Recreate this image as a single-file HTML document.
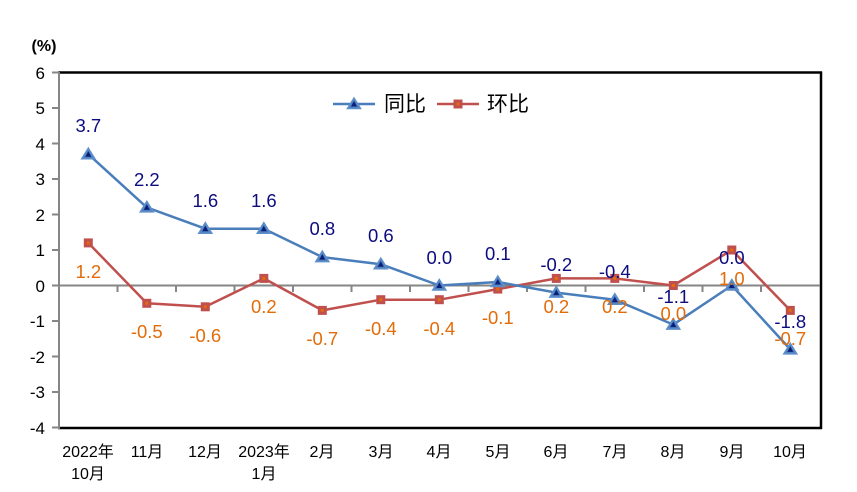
<!DOCTYPE html>
<html><head><meta charset="utf-8"><style>
html,body{margin:0;padding:0;background:#fff;}
svg{display:block;}
text{font-family:"Liberation Sans","Noto Sans CJK SC",sans-serif;}
</style></head><body>
<svg width="857" height="492" viewBox="0 0 857 492" xmlns="http://www.w3.org/2000/svg">
<defs>
<g id="tri"><polygon points="0,-6 6.5,4.5 -6.5,4.5" fill="#4F81BD" stroke="#5F8FCB" stroke-width="1.5"/><polygon points="0,-3 3,2.5 -3,2.5" fill="#0A1F7A"/></g>
<g id="sq"><rect x="-4.5" y="-4.5" width="9" height="9" fill="#C0504D"/><rect x="-1.5" y="-1.5" width="3" height="3" fill="#E36C09"/></g>
</defs>
<!-- frame -->
<line x1="58" y1="72.5" x2="822" y2="72.5" stroke="#000" stroke-width="2.5"/>
<line x1="58" y1="428" x2="822" y2="428" stroke="#000" stroke-width="2.5"/>
<line x1="821" y1="71.5" x2="821" y2="429" stroke="#000" stroke-width="2.5"/>
<line x1="59" y1="72" x2="59" y2="429" stroke="#868686" stroke-width="2"/>
<g stroke="#868686" stroke-width="2">
<line x1="52" y1="72.5" x2="59" y2="72.5"/>
<line x1="52" y1="108" x2="59" y2="108"/>
<line x1="52" y1="143.5" x2="59" y2="143.5"/>
<line x1="52" y1="179" x2="59" y2="179"/>
<line x1="52" y1="214.5" x2="59" y2="214.5"/>
<line x1="52" y1="250" x2="59" y2="250"/>
<line x1="52" y1="285.5" x2="59" y2="285.5"/>
<line x1="52" y1="321" x2="59" y2="321"/>
<line x1="52" y1="356.5" x2="59" y2="356.5"/>
<line x1="52" y1="392" x2="59" y2="392"/>
<line x1="52" y1="427.5" x2="59" y2="427.5"/>
<line x1="59" y1="285.5" x2="820" y2="285.5"/>
<line x1="117.5" y1="285" x2="117.5" y2="292"/>
<line x1="176" y1="285" x2="176" y2="292"/>
<line x1="234.5" y1="285" x2="234.5" y2="292"/>
<line x1="293" y1="285" x2="293" y2="292"/>
<line x1="351.5" y1="285" x2="351.5" y2="292"/>
<line x1="410" y1="285" x2="410" y2="292"/>
<line x1="468.5" y1="285" x2="468.5" y2="292"/>
<line x1="527" y1="285" x2="527" y2="292"/>
<line x1="585.5" y1="285" x2="585.5" y2="292"/>
<line x1="644" y1="285" x2="644" y2="292"/>
<line x1="702.5" y1="285" x2="702.5" y2="292"/>
<line x1="761" y1="285" x2="761" y2="292"/>
</g>
<!-- y labels -->
<g font-size="17" fill="#000" text-anchor="end">
<text x="45" y="79">6</text>
<text x="45" y="114">5</text>
<text x="45" y="150">4</text>
<text x="45" y="185">3</text>
<text x="45" y="221">2</text>
<text x="45" y="256">1</text>
<text x="45" y="292">0</text>
<text x="45" y="327">-1</text>
<text x="45" y="363">-2</text>
<text x="45" y="398">-3</text>
<text x="45" y="434">-4</text>
</g>
<text x="44" y="51" font-size="16" font-weight="bold" text-anchor="middle">(%)</text>
<!-- x labels -->
<g font-size="16" fill="#000" text-anchor="middle">
<text x="88" y="457">2022年</text><text x="88" y="479">10月</text>
<text x="147" y="457">11月</text>
<text x="205" y="457">12月</text>
<text x="264" y="457">2023年</text><text x="264" y="479">1月</text>
<text x="322" y="457">2月</text>
<text x="381" y="457">3月</text>
<text x="439" y="457">4月</text>
<text x="498" y="457">5月</text>
<text x="556" y="457">6月</text>
<text x="615" y="457">7月</text>
<text x="673" y="457">8月</text>
<text x="732" y="457">9月</text>
<text x="790" y="457">10月</text>
</g>
<!-- series 环比 -->
<polyline fill="none" stroke="#C0504D" stroke-width="2.5" stroke-linejoin="round" points="88.3,242.9 146.8,303.3 205.3,306.8 263.8,278.4 322.3,310.4 380.8,299.7 439.3,299.7 497.8,289.1 556.3,278.4 614.8,278.4 673.3,285.5 731.8,250 790.3,310.4"/>
<!-- series 同比 -->
<polyline fill="none" stroke="#4A7EBB" stroke-width="2.5" stroke-linejoin="round" points="88.3,154.2 146.8,207.4 205.3,228.7 263.8,228.7 322.3,257.1 380.8,264.2 439.3,285.5 497.8,282 556.3,292.6 614.8,299.7 673.3,324.6 731.8,285.5 790.3,349.4"/>
<g>
<use href="#sq" x="88.3" y="242.9"/><use href="#sq" x="146.8" y="303.3"/><use href="#sq" x="205.3" y="306.8"/><use href="#sq" x="263.8" y="278.4"/><use href="#sq" x="322.3" y="310.4"/><use href="#sq" x="380.8" y="299.7"/><use href="#sq" x="439.3" y="299.7"/><use href="#sq" x="497.8" y="289.1"/><use href="#sq" x="556.3" y="278.4"/><use href="#sq" x="614.8" y="278.4"/><use href="#sq" x="673.3" y="285.5"/><use href="#sq" x="731.8" y="250"/><use href="#sq" x="790.3" y="310.4"/>
</g>
<g>
<use href="#tri" x="88.3" y="154.2"/><use href="#tri" x="146.8" y="207.4"/><use href="#tri" x="205.3" y="228.7"/><use href="#tri" x="263.8" y="228.7"/><use href="#tri" x="322.3" y="257.1"/><use href="#tri" x="380.8" y="264.2"/><use href="#tri" x="439.3" y="285.5"/><use href="#tri" x="497.8" y="282"/><use href="#tri" x="556.3" y="292.6"/><use href="#tri" x="614.8" y="299.7"/><use href="#tri" x="673.3" y="324.6"/><use href="#tri" x="731.8" y="285.5"/><use href="#tri" x="790.3" y="349.4"/>
</g>
<!-- labels 同比 -->
<g font-size="18.5" fill="#0C0C80" text-anchor="middle">
<text x="88.3" y="132">3.7</text>
<text x="146.8" y="186">2.2</text>
<text x="205.3" y="207">1.6</text>
<text x="263.8" y="207">1.6</text>
<text x="322.3" y="235">0.8</text>
<text x="380.8" y="242">0.6</text>
<text x="439.3" y="264">0.0</text>
<text x="497.8" y="260">0.1</text>
<text x="556.3" y="271">-0.2</text>
<text x="614.8" y="278">-0.4</text>
<text x="673.3" y="303">-1.1</text>
<text x="731.8" y="264">0.0</text>
<text x="790.3" y="328">-1.8</text>
</g>
<!-- labels 环比 -->
<g font-size="18.5" fill="#E36C09" text-anchor="middle">
<text x="88.3" y="278">1.2</text>
<text x="146.8" y="338">-0.5</text>
<text x="205.3" y="342">-0.6</text>
<text x="263.8" y="313">0.2</text>
<text x="322.3" y="345">-0.7</text>
<text x="380.8" y="335">-0.4</text>
<text x="439.3" y="335">-0.4</text>
<text x="497.8" y="324">-0.1</text>
<text x="556.3" y="313">0.2</text>
<text x="614.8" y="313">0.2</text>
<text x="673.3" y="320">0.0</text>
<text x="731.8" y="285">1.0</text>
<text x="790.3" y="345">-0.7</text>
</g>
<!-- legend -->
<line x1="333" y1="104" x2="375" y2="104" stroke="#4A7EBB" stroke-width="2.5"/>
<use href="#tri" x="354" y="104"/>
<text x="384" y="111" font-size="21" fill="#000">同比</text>
<line x1="437" y1="104" x2="479" y2="104" stroke="#C0504D" stroke-width="2.5"/>
<use href="#sq" x="458" y="104"/>
<text x="487" y="111" font-size="21" fill="#000">环比</text>
</svg>
</body></html>
